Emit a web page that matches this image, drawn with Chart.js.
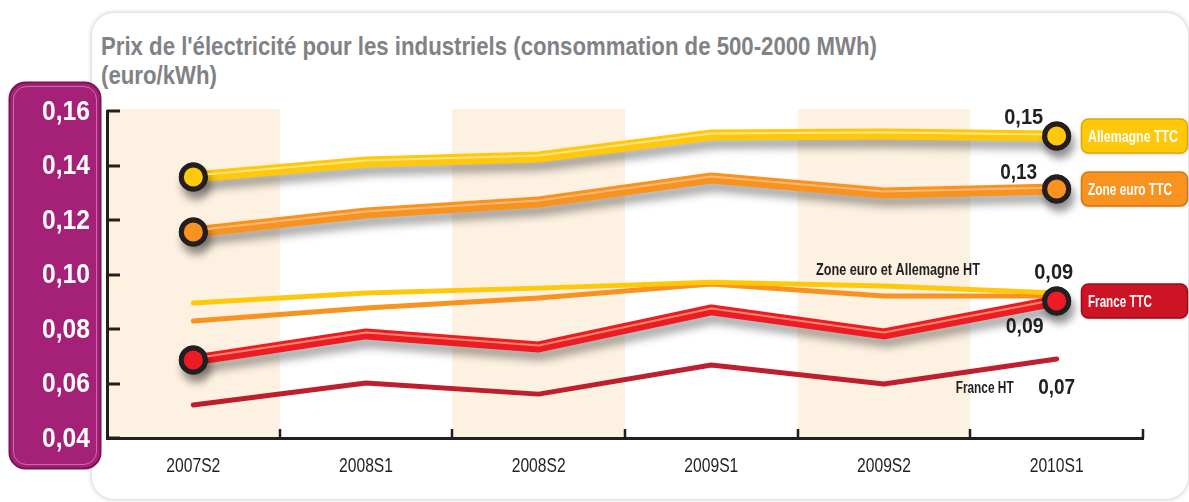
<!DOCTYPE html>
<html><head><meta charset="utf-8">
<script src="https://cdn.jsdelivr.net/npm/chart.js@4.4.0/dist/chart.umd.min.js"></script>
<style>
html,body{margin:0;padding:0;background:#fff;width:1189px;height:502px;overflow:hidden;}
#card{position:absolute;left:92px;top:13px;width:1096px;height:486px;border-radius:22px;background:#fff;box-shadow:0 0 4px 1px rgba(0,0,0,0.18);}
#title{position:absolute;left:101px;top:32px;font-family:'Liberation Sans',Arial,sans-serif;font-weight:bold;font-size:25px;line-height:29px;color:#808285;white-space:nowrap;transform-origin:0 0;}
#title span{display:inline-block;}
#wrap{position:absolute;left:0;top:0;width:1189px;height:502px;}
</style></head>
<body>
<div id="card"></div>
<div id="title"><span id="t1">Prix de l'électricité pour les industriels (consommation de 500-2000 MWh)</span><br><span>(euro/kWh)</span></div>
<div id="wrap"><canvas id="c" width="1189" height="502"></canvas></div>
<script>
const FONT = "'Liberation Sans',Arial,sans-serif";
const categories = ['2007S2','2008S1','2008S2','2009S1','2009S2','2010S1'];
const allemagneTTC = [0.1358,0.1413,0.1431,0.1512,0.1516,0.1508];
const zoneEuroTTC  = [0.1156,0.1226,0.1266,0.1354,0.1299,0.1314];
const allemagneHT  = [0.0895,0.0932,0.0950,0.0972,0.0958,0.0932];
const zoneEuroHT   = [0.0829,0.0877,0.0914,0.0965,0.0921,0.0921];
const franceTTC    = [0.0686,0.0782,0.0734,0.0870,0.0782,0.0903];
const franceHT     = [0.0521,0.0602,0.0561,0.0668,0.0598,0.0690];
const yTicks = [0.04,0.06,0.08,0.10,0.12,0.14,0.16];
const shadedCats = [0,2,4];

// condensed title: fit first line to the reference width
(function(){
  const t1 = document.getElementById('t1');
  const s = 776 / t1.getBoundingClientRect().width;
  document.getElementById('title').style.transform = 'scaleX('+s+')';
})();

const YEL='#FFC80B', ORA='#F7931E', RED='#ED1C24', DRED='#BE1E2D', INK='#231f20';
const fmt = v => v.toFixed(2).replace('.', ',');
const endPts = [12,0,0,0,0,12];

function fitText(ctx, text, x, y, font, w, align){
  ctx.font = font;
  const s = w / ctx.measureText(text).width;
  ctx.save(); ctx.translate(x, y); ctx.scale(s, 1);
  ctx.textAlign = align; ctx.textBaseline = 'middle';
  ctx.fillText(text, 0, 0); ctx.restore();
}
function scaledText(ctx, text, x, y, font, s, align){
  ctx.font = font;
  ctx.save(); ctx.translate(x, y); ctx.scale(s, 1);
  ctx.textAlign = align; ctx.textBaseline = 'middle';
  ctx.fillText(text, 0, 0); ctx.restore();
}

function thick(label, data, color, hi, legendFill, legendStroke, legendW){
  return {label, data, borderColor:color, backgroundColor:color, borderWidth:11,
    pointRadius:endPts, pointBorderWidth:5, pointBorderColor:INK, pointBackgroundColor:color,
    tension:0, borderJoinStyle:'round', borderCapStyle:'round', order:0,
    _shadow:true, _hi:hi, _legendFill:legendFill, _legendStroke:legendStroke, _legendW:legendW};
}
function thin(label, data, color){
  return {label, data, borderColor:color, borderWidth:5, pointRadius:0, tension:0,
    borderJoinStyle:'round', borderCapStyle:'round', order:1};
}

const decor = {
  id:'decor',
  beforeDraw(chart){
    const {ctx, chartArea:a, scales:{x}} = chart;
    ctx.save();
    ctx.beginPath(); ctx.roundRect(9.5,82.5,91,386,16);
    ctx.fillStyle='#A52178'; ctx.fill();
    ctx.lineWidth=2; ctx.strokeStyle='#7d1257'; ctx.stroke();
    ctx.beginPath(); ctx.roundRect(13.5,86.5,83,378,13);
    ctx.lineWidth=1; ctx.strokeStyle='rgba(255,255,255,0.35)'; ctx.stroke();
    const half = (x.getPixelForValue(1)-x.getPixelForValue(0))/2;
    ctx.fillStyle='#FDF1E2';
    shadedCats.forEach(i=>{
      const cx = x.getPixelForValue(i);
      ctx.fillRect(cx-half, a.top-2, half*2, a.bottom-a.top+2);
    });
    ctx.restore();
  },
  afterDraw(chart){
    const {ctx, chartArea:a, scales:{x,y}} = chart;
    ctx.save();
    ctx.strokeStyle=INK; ctx.lineWidth=3;
    yTicks.forEach(v=>{
      const py = Math.round(y.getPixelForValue(v));
      ctx.beginPath(); ctx.moveTo(a.left, py); ctx.lineTo(a.left+13, py); ctx.stroke();
    });
    const half = (x.getPixelForValue(1)-x.getPixelForValue(0))/2;
    ctx.lineWidth=2.5;
    categories.forEach((c,i)=>{
      const px = Math.round(x.getPixelForValue(i)+half);
      ctx.beginPath(); ctx.moveTo(px, a.bottom); ctx.lineTo(px, a.bottom-9); ctx.stroke();
    });
    // tick labels
    ctx.fillStyle='#fff';
    yTicks.forEach(v=>{
      fitText(ctx, fmt(v), 90, y.getPixelForValue(v)+1, "bold 28px "+FONT, 48, 'right');
    });
    ctx.fillStyle=INK;
    ctx.font = "20px "+FONT;
    const sx = 54 / ctx.measureText(categories[0]).width;
    categories.forEach((c,i)=>{
      scaledText(ctx, c, x.getPixelForValue(i), a.bottom+28, "20px "+FONT, sx, 'center');
    });
    ctx.restore();
  }
};

const lineFx = {
  id:'lineFx',
  beforeDatasetDraw(chart, args){
    const ds = chart.data.datasets[args.index];
    if(ds._shadow){
      const ctx = chart.ctx; ctx.save();
      ctx.shadowColor='rgba(0,0,0,0.35)'; ctx.shadowBlur=8; ctx.shadowOffsetX=3; ctx.shadowOffsetY=8;
    }
  },
  afterDatasetDraw(chart, args){
    const ds = chart.data.datasets[args.index];
    if(!ds._shadow) return;
    const ctx = chart.ctx; ctx.restore();
    const pts = args.meta.data;
    ctx.save();
    ctx.beginPath();
    pts.forEach((p,i)=>{ i?ctx.lineTo(p.x,p.y-1.5):ctx.moveTo(p.x,p.y-1.5); });
    ctx.strokeStyle=ds._hi; ctx.lineWidth=2; ctx.lineJoin='round'; ctx.stroke();
    ctx.restore();
    pts.forEach(p=>{ if(p.options.radius>0) p.draw(ctx, chart.chartArea); });
  }
};

const annot = {
  id:'annot',
  afterDraw(chart){
    const ctx = chart.ctx;
    const metas = chart.data.datasets.map((d,i)=>chart.getDatasetMeta(i));
    const last = (i)=>metas[i].data[metas[i].data.length-1];
    const pt = (i,k)=>metas[i].data[k];
    const vals = chart.data.datasets.map(d=>d.data);
    ctx.save();
    ctx.fillStyle=INK;
    const vf = "bold 22px "+FONT;
    let p;
    p=last(0); fitText(ctx, fmt(vals[0][5]), p.x-33, p.y-18, vf, 39, 'center');
    p=last(1); fitText(ctx, fmt(vals[1][5]), p.x-38, p.y-16, vf, 37, 'center');
    p=last(2); fitText(ctx, fmt(vals[2][5]), p.x-3, p.y-28, vf, 39, 'center');
    p=last(4); fitText(ctx, fmt(vals[4][5]), p.x-32, p.y+31, vf, 38, 'center');
    p=last(5); fitText(ctx, fmt(vals[5][5]), p.x, p.y+29, vf, 37, 'center');
    const lf = "bold 16px "+FONT;
    p=pt(3,4); fitText(ctx, 'Zone euro et Allemagne HT', p.x+14, p.y-15, lf, 164, 'center');
    p=last(5); fitText(ctx, 'France HT', p.x-72, p.y+30, lf, 58, 'center');
    [0,1,2].forEach(i=>{
      const ds = chart.data.datasets[i]; const q = last(i);
      ctx.save();
      ctx.shadowColor='rgba(0,0,0,0.25)'; ctx.shadowBlur=3; ctx.shadowOffsetY=1;
      ctx.beginPath(); ctx.roundRect(1081.5, q.y-17, 106, 34, 7);
      ctx.fillStyle=ds._legendFill; ctx.fill();
      ctx.restore();
      ctx.beginPath(); ctx.roundRect(1081.5, q.y-17, 106, 34, 7);
      ctx.lineWidth=1.5; ctx.strokeStyle=ds._legendStroke; ctx.stroke();
      ctx.fillStyle='#fff';
      fitText(ctx, ds.label, 1088, q.y+1, "bold 17px "+FONT, ds._legendW, 'left');
    });
    ctx.restore();
  }
};

new Chart(document.getElementById('c'), {
  type:'line',
  data:{
    labels:categories,
    datasets:[
      thick('Allemagne TTC', allemagneTTC, YEL, '#FFE487', '#FFC80B', '#E0A800', 90),
      thick('Zone euro TTC', zoneEuroTTC, ORA, '#FBB877', '#F7931E', '#D47812', 84),
      thick('France TTC', franceTTC, RED, '#F8866A', '#CC1424', '#9E0C18', 64),
      thin('Allemagne HT', allemagneHT, YEL),
      thin('Zone euro HT', zoneEuroHT, ORA),
      thin('France HT', franceHT, DRED)
    ]
  },
  options:{
    responsive:false, animation:false, events:[],
    layout:{padding:{left:0, top:111, right:46, bottom:0}},
    plugins:{legend:{display:false}, tooltip:{enabled:false}},
    scales:{
      x:{type:'category', offset:true, grid:{display:false},
         border:{display:true, color:INK, width:3},
         ticks:{display:false},
         afterFit(s){ s.height=64; }},
      y:{min:0.04, max:0.16, grid:{display:false},
         afterBuildTicks(s){ s.ticks = yTicks.map(v=>({value:v})); },
         border:{display:true, color:INK, width:3},
         ticks:{display:false},
         afterFit(s){ s.width=107; }}
    }
  },
  plugins:[decor, lineFx, annot]
});
</script>
</body></html>
